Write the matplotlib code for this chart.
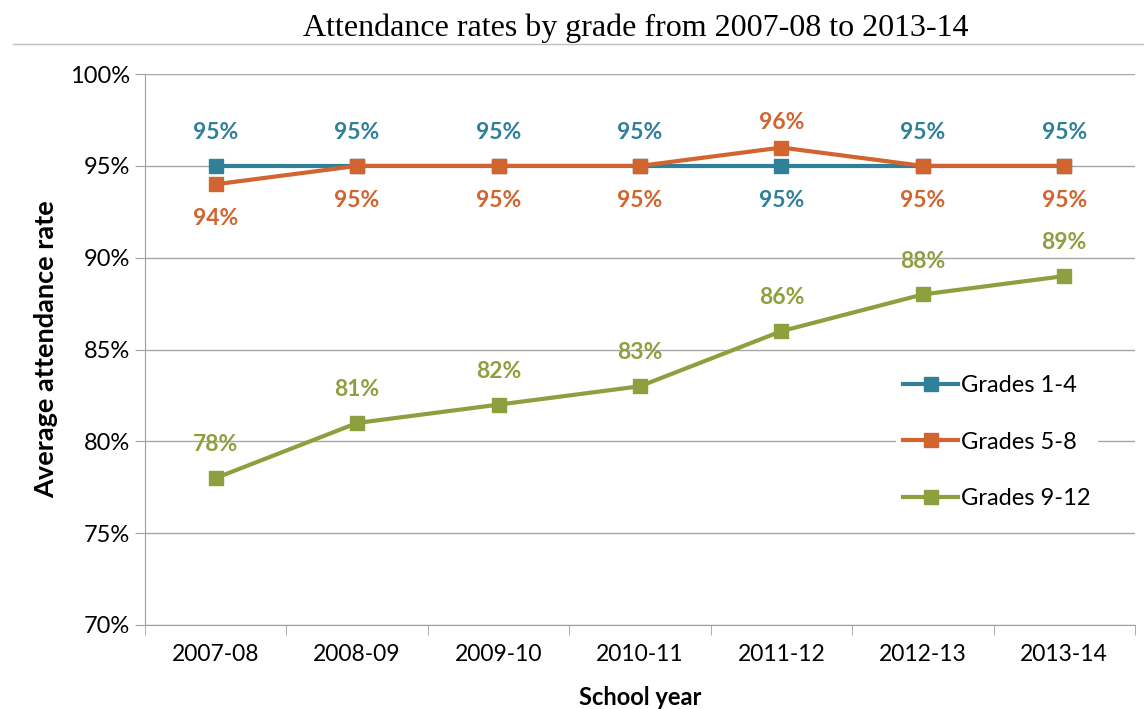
import matplotlib.pyplot as plt
from matplotlib.lines import Line2D

# data
years = ['2007-08', '2008-09', '2009-10', '2010-11', '2011-12', '2012-13', '2013-14']
grades_1_4 = [95, 95, 95, 95, 95, 95, 95]
grades_5_8 = [94, 95, 95, 95, 96, 95, 95]
grades_9_12 = [78, 81, 82, 83, 86, 88, 89]
series_names = ['Grades 1-4', 'Grades 5-8', 'Grades 9-12']

# label placement: +1 above the point, -1 below
pos_1_4 = [1, 1, 1, 1, -1, 1, 1]
pos_5_8 = [-1, -1, -1, -1, 1, -1, -1]
pos_9_12 = [1, 1, 1, 1, 1, 1, 1]

colors = ['#31809A', '#D2642F', '#8DA040']
lab_font = ['Lato', 'DejaVu Sans']

fig = plt.figure(figsize=(11.44, 7.09), dpi=100)
ax = fig.add_axes([0.1267, 0.1185, 0.8654, 0.777])

x = list(range(len(years)))
all_series = [grades_1_4, grades_5_8, grades_9_12]
all_pos = [pos_1_4, pos_5_8, pos_9_12]
for vals, pos, c in zip(all_series, all_pos, colors):
    ax.plot(x, vals, color=c, lw=3, marker='s', ms=10, zorder=3)
    for xi, v, p in zip(x, vals, pos):
        off = 24 if p > 0 else -25
        if v == 96:
            off = 18
        ax.annotate(f'{v}%', (xi, v), xytext=(0, off), textcoords='offset points',
                    ha='center', va='center', color=c, fontsize=16.5,
                    fontweight='bold', family=lab_font)

ax.set_xlim(-0.5, 6.5)
ax.set_ylim(70, 100)
ax.set_yticks(range(70, 101, 5))
ax.set_yticklabels([f'{t}%' for t in range(70, 101, 5)], family=lab_font, fontsize=17)
ax.set_xticks(x)
ax.set_xticklabels(years, family=lab_font, fontsize=16.5)
ax.set_xticks([i - 0.5 for i in range(len(years) + 1)], minor=True)
ax.tick_params(axis='x', which='major', length=0, pad=14)
ax.tick_params(axis='x', which='minor', length=7, color='#A0A0A0', direction='out')
ax.tick_params(axis='y', length=7, color='#A0A0A0', pad=4)
ax.grid(axis='y', color='#A6A6A6', lw=1)
ax.set_axisbelow(True)
for s in ['top', 'right']:
    ax.spines[s].set_visible(False)
for s in ['left', 'bottom']:
    ax.spines[s].set_color('#A0A0A0')

ax.set_xlabel('School year', family=lab_font, fontsize=17, fontweight='bold', labelpad=15)
ax.set_ylabel('Average attendance rate', family=lab_font, fontsize=19.5, fontweight='bold', labelpad=8)

handles = [Line2D([], [], color=c, lw=3, marker='s', ms=10) for c in colors]
leg = ax.legend(handles, series_names, loc='center left', bbox_to_anchor=(0.747, 0.332),
                frameon=True, facecolor='white', edgecolor='none', framealpha=1,
                handlelength=2.3, labelspacing=1.5, handletextpad=0.15,
                borderpad=0.3, prop={'family': lab_font, 'size': 17})
leg.set_zorder(5)

fig.text(0.556, 0.96, 'Attendance rates by grade from 2007-08 to 2013-14', ha='center',
         va='center', family=['Liberation Serif', 'DejaVu Serif'], fontsize=23)
fig.add_artist(Line2D([0.011, 1.0], [0.938, 0.938], color='#C0C0C0', lw=1))

fig.savefig('out.png', dpi=100)
